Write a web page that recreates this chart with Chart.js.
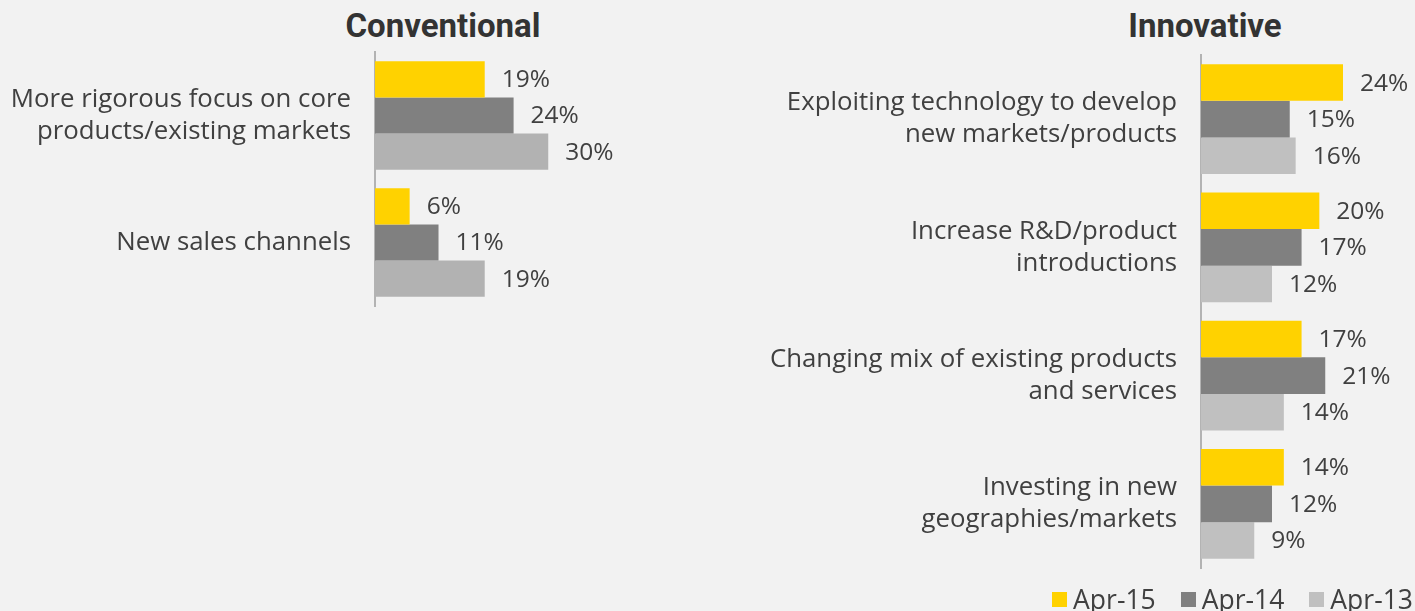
<!DOCTYPE html>
<html>
<head>
<meta charset="utf-8">
<script src="https://cdn.jsdelivr.net/npm/chart.js@4.4.0/dist/chart.umd.min.js"></script>
<style>
  html, body { margin:0; padding:0; background:#f2f2f2; }
  body { width:1415px; height:611px; position:relative; overflow:hidden; font-family: "Open Sans", sans-serif; }
  .title { position:absolute; top:9px; font: bold 33px Roboto, sans-serif; line-height:33px; color:#333; transform:translateX(-50%); white-space:nowrap; }
  canvas { position:absolute; top:0; }
  #cL { left:0; }
  #cR { left:700px; }
  #legend { position:absolute; right:2px; top:586px; display:flex; align-items:center; font: 400 26.5px "Open Sans", sans-serif; color:#404040; line-height:27px; }
  #legend .item { display:flex; align-items:center; margin-left:25px; }
  #legend .box { width:15px; height:15px; margin-right:6px; }
</style>
</head>
<body>
<div class="title" style="left:443px">Conventional</div>
<div class="title" style="left:1205px">Innovative</div>
<canvas id="cL" width="700" height="320"></canvas>
<canvas id="cR" width="715" height="611"></canvas>
<div id="legend"></div>
<script>
// ---- data ----
const seriesNames = ["Apr-15", "Apr-14", "Apr-13"];
const convCategories = [
  ["More rigorous focus on core", "products/existing markets"],
  ["New sales channels"]
];
const convApr15 = [19, 6];
const convApr14 = [24, 11];
const convApr13 = [30, 19];

const innoCategories = [
  ["Exploiting technology to develop", "new markets/products"],
  ["Increase R&D/product", "introductions"],
  ["Changing mix of existing products", "and services"],
  ["Investing in new", "geographies/markets"]
];
const innoApr15 = [24, 20, 17, 14];
const innoApr14 = [15, 17, 21, 12];
const innoApr13 = [16, 12, 14, 9];

// ---- styles ----
const YELLOW = "#FFD200", DARK = "#808080", LIGHT_L = "#B2B2B2", LIGHT_R = "#C0C0C0";
const TEXT = "#404040";
const FONT = "'Open Sans'";

const valueLabels = {
  id: "valueLabels",
  afterDatasetsDraw(chart) {
    const ctx = chart.ctx;
    ctx.save();
    ctx.font = "400 24.5px " + FONT;
    ctx.fillStyle = TEXT;
    ctx.textAlign = "left";
    ctx.textBaseline = "middle";
    chart.data.datasets.forEach((ds, i) => {
      const meta = chart.getDatasetMeta(i);
      meta.data.forEach((bar, j) => {
        ctx.fillText(ds.data[j] + "%", bar.x + 17, bar.y + 1);
      });
    });
    ctx.restore();
  }
};

function makeChart(id, cats, s15, s14, s13, light, axisWidth, max, pad) {
  return new Chart(document.getElementById(id), {
    type: "bar",
    data: {
      labels: cats,
      datasets: [
        { label: seriesNames[0], data: s15, backgroundColor: YELLOW },
        { label: seriesNames[1], data: s14, backgroundColor: DARK },
        { label: seriesNames[2], data: s13, backgroundColor: light }
      ]
    },
    options: {
      indexAxis: "y",
      responsive: false,
      maintainAspectRatio: false,
      devicePixelRatio: 1,
      animation: false,
      events: [],
      layout: { padding: pad },
      datasets: { bar: { categoryPercentage: 0.855, barPercentage: 1.0 } },
      plugins: { legend: { display: false }, tooltip: { enabled: false }, title: { display: false } },
      scales: {
        x: { display: false, min: 0, max: max },
        y: {
          afterFit(scale) {
            scale.width = axisWidth;
            scale.paddingTop = 0; scale.paddingBottom = 0;
            scale.paddingLeft = 0; scale.paddingRight = 0;
          },
          grid: { display: true, color: "transparent", drawTicks: false },
          border: { display: true, color: "#b3b3b3", width: 2 },
          ticks: { color: TEXT, font: { family: "Open Sans", size: 25.8, weight: 400, lineHeight: 1.24 }, padding: 24 }
        }
      }
    },
    plugins: [valueLabels]
  });
}

makeChart("cL", convCategories, convApr15, convApr14, convApr13, LIGHT_L, 375, 40, { top: 52, bottom: 14, right: 94, left: 0 });
makeChart("cR", innoCategories, innoApr15, innoApr14, innoApr13, LIGHT_R, 501, 36, { top: 55, bottom: 43, right: 1, left: 0 });

// legend
const legendColors = [YELLOW, DARK, LIGHT_R];
const lg = document.getElementById("legend");
seriesNames.forEach((n, i) => {
  const it = document.createElement("div");
  it.className = "item";
  if (i === 0) it.style.marginLeft = "0";
  const b = document.createElement("div");
  b.className = "box"; b.style.background = legendColors[i];
  const t = document.createElement("span"); t.textContent = n;
  it.appendChild(b); it.appendChild(t); lg.appendChild(it);
});
</script>
</body>
</html>
